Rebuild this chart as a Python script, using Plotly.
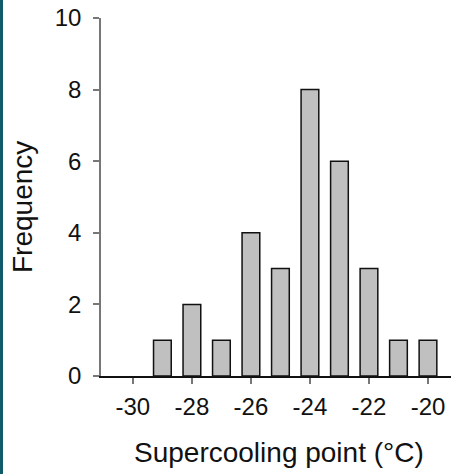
import plotly.graph_objects as go

temps = [-30, -29, -28, -27, -26, -25, -24, -23, -22, -21, -20]
freq = [0, 1, 2, 1, 4, 3, 8, 6, 3, 1, 1]
x_ticks = [-30, -28, -26, -24, -22, -20]
y_ticks = [0, 2, 4, 6, 8, 10]
x_title = "Supercooling point (°C)"
y_title = "Frequency"

FONT = "Liberation Sans, Arial, sans-serif"

# zero-count bins draw nothing
bx = [t for t, f in zip(temps, freq) if f > 0]
by = [f for f in freq if f > 0]

fig = go.Figure()
fig.add_trace(go.Bar(
    x=bx, y=by, width=0.6,
    marker=dict(color="#c0c0c0", line=dict(color="#111111", width=1.5)),
))

fig.update_layout(
    width=456, height=474,
    margin=dict(l=101, r=5, t=18, b=98),
    paper_bgcolor="white", plot_bgcolor="white",
    showlegend=False,
    font=dict(family=FONT, size=24, color="#111111"),
    xaxis=dict(
        range=[-31.08, -19.22], tickvals=x_ticks, ticktext=[str(v) for v in x_ticks],
        showgrid=False, zeroline=False, showline=True, linecolor="#111111", linewidth=2,
        ticks="outside", ticklen=6, tickcolor="#777777", tickwidth=1.5,
        tickfont=dict(size=24), ticklabelstandoff=2,
    ),
    yaxis=dict(
        range=[0, 10], tickvals=y_ticks, ticktext=[str(v) for v in y_ticks],
        showgrid=False, zeroline=False, showline=True, linecolor="#777777", linewidth=1.5,
        ticks="outside", ticklen=6, tickcolor="#777777", tickwidth=1.5,
        tickfont=dict(size=24), ticklabelstandoff=7,
    ),
    shapes=[dict(type="rect", xref="paper", yref="paper", x0=-101/350, x1=-98/350,
                 y0=-2, y1=2, fillcolor="#105a6a", line=dict(width=0), layer="above")],
    annotations=[
        dict(text=x_title, xref="paper", yref="paper", x=(279-101)/350, y=-(453-376)/358,
             showarrow=False, xanchor="center", yanchor="middle", font=dict(size=28)),
        dict(text=y_title, xref="paper", yref="paper", x=-(101-22)/350, y=(376-207)/358,
             showarrow=False, xanchor="center", yanchor="middle", textangle=-90,
             font=dict(size=28)),
    ],
)

fig.write_html("out.html")
